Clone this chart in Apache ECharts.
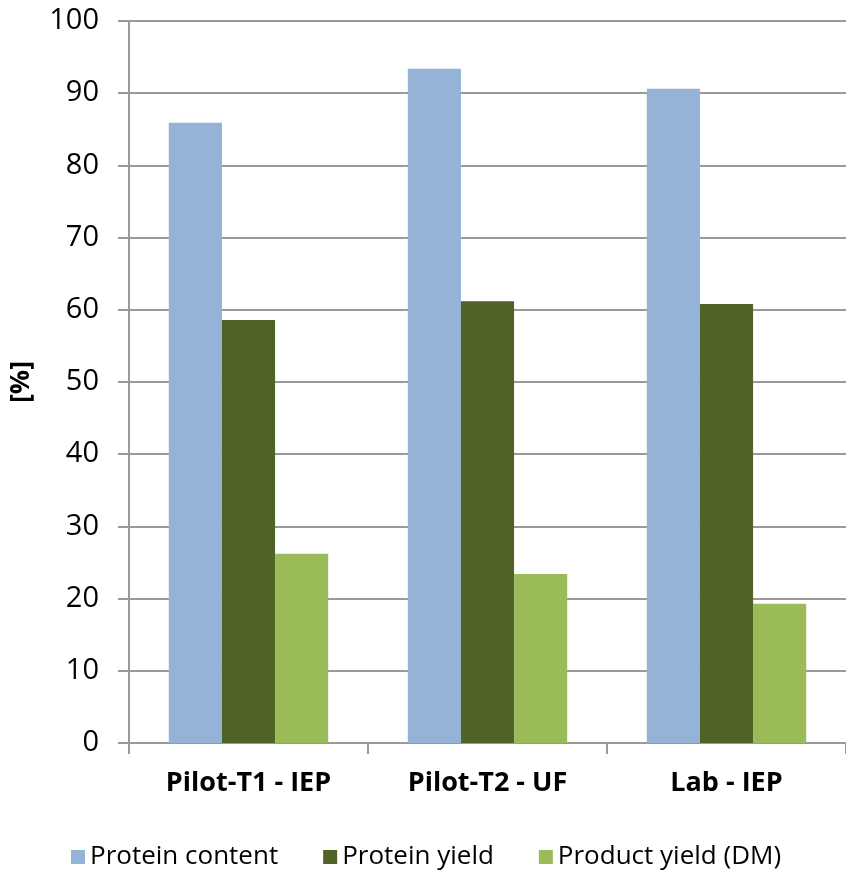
<!DOCTYPE html>
<html>
<head>
<meta charset="utf-8">
<script src="https://cdn.jsdelivr.net/npm/echarts@6/dist/echarts.min.js"></script>
<style>
  html, body { margin: 0; padding: 0; background: #fff; }
  #app { width: 846px; height: 871px; }
</style>
</head>
<body>
<div id="app"></div>
<script>
const categories = ['Pilot-T1 - IEP', 'Pilot-T2 - UF', 'Lab - IEP'];
const proteinContent = [85.9, 93.4, 90.6];
const proteinYield = [58.6, 61.2, 60.8];
const productYield = [26.2, 23.4, 19.3];

const font = '"Open Sans", "Noto Sans", sans-serif';
const gridColor = '#999';

const chart = echarts.init(document.getElementById('app'));
chart.setOption({
  animation: false,
  textStyle: { fontFamily: font },
  legend: {
    bottom: -4,
    left: 66,
    itemWidth: 14,
    itemHeight: 14,
    itemGap: 45,
    icon: 'rect',
    textStyle: { fontSize: 26, color: '#000', fontFamily: font },
    data: ['Protein content', 'Protein yield', 'Product yield (DM)']
  },
  grid: { left: 129, top: 21, width: 720, height: 722 },
  xAxis: {
    type: 'category',
    data: categories,
    axisLine: { lineStyle: { color: gridColor, width: 2 } },
    axisTick: { show: true, length: 11, lineStyle: { color: gridColor, width: 2 } },
    axisLabel: { fontSize: 27, fontWeight: 'bold', color: '#000', margin: 27 }
  },
  yAxis: {
    type: 'value',
    min: 0,
    max: 100,
    interval: 10,
    name: '[%]',
    nameLocation: 'middle',
    nameGap: 94,
    nameTextStyle: { fontSize: 27, fontWeight: 'bold', color: '#000' },
    axisLine: { show: true, lineStyle: { color: gridColor, width: 2 } },
    axisTick: { show: true, length: 11, lineStyle: { color: gridColor, width: 2 } },
    axisLabel: { fontSize: 29, color: '#000', margin: 30 },
    splitLine: { lineStyle: { color: gridColor, width: 2 } }
  },
  series: [
    { name: 'Protein content', type: 'bar', data: proteinContent, itemStyle: { color: '#95B3D7' }, barGap: '0%', barCategoryGap: '33.3%' },
    { name: 'Protein yield', type: 'bar', data: proteinYield, itemStyle: { color: '#4F6228' } },
    { name: 'Product yield (DM)', type: 'bar', data: productYield, itemStyle: { color: '#9BBB59' } }
  ]
});
</script>
</body>
</html>
